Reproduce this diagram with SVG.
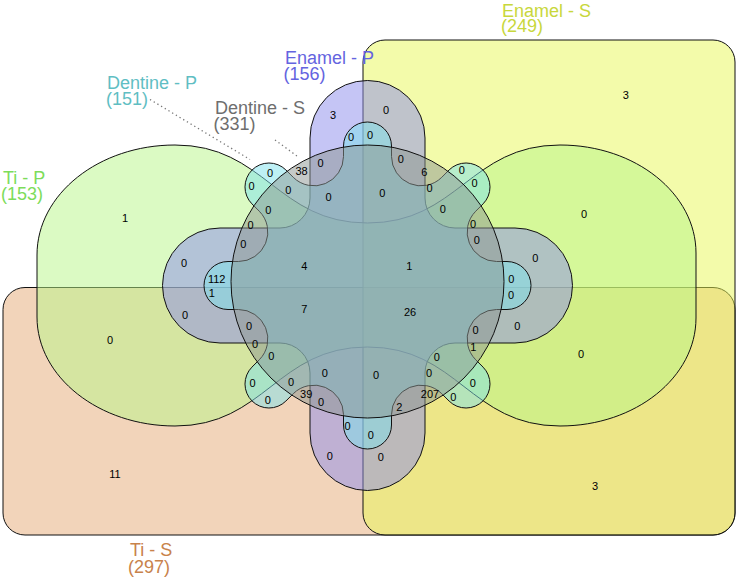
<svg xmlns="http://www.w3.org/2000/svg" width="736" height="579" viewBox="0 0 736 579">
<style>
.s{stroke:#111;stroke-width:1;fill-opacity:0.5}
.n{font-family:"Liberation Sans",Arial,sans-serif;font-size:11px;fill:#000;text-anchor:middle}
.l{font-family:"Liberation Sans",Arial,sans-serif;font-size:18px}
.d{stroke:#777;stroke-width:1.3;stroke-dasharray:1.3,3;fill:none}
</style>
<rect width="736" height="579" fill="#fff"/>
<g id="ti-s">
<rect class="s" x="3" y="287.5" width="732" height="247.5" rx="22" fill="#e5a975"/>
<text class="l" fill="#c8824b" x="130" y="556">Ti - S</text>
<text class="l" fill="#c8824b" x="128" y="572.5">(297)</text>
</g>
<g id="enamel-s">
<rect class="s" x="363" y="40" width="372" height="495" rx="22" fill="#e7f755"/>
<text class="l" fill="#c8d73c" x="502" y="16.5">Enamel - S</text>
<text class="l" fill="#c8d73c" x="501" y="32">(249)</text>
</g>
<g id="ti-p">
<path class="s" fill="#b7f587" d="M37 255C37 194 99 145 175 145C265 145 277 223 367.5 223C458 223 470 145 560 145C636 145 696 194 696 253L696 318C696 377 636 426 560 426C470 426 458 347 367.5 347C277 347 265 426 175 426C99 426 37 377 37 317Z"/>
<text class="l" fill="#7ddc5a" x="3" y="184">Ti - P</text>
<text class="l" fill="#7ddc5a" x="1" y="200">(153)</text>
</g>
<g id="enamel-p">
<path class="s" fill="#8b8beb" d="M310 198L310 138A57.5 57.5 0 0 1 425 138L425 198A30 30 0 0 0 455 228L515 228A57.5 57.5 0 0 1 515 343L455 343A30 30 0 0 0 425 373L425 433A57.5 57.5 0 0 1 310 433L310 373A30 30 0 0 0 280 343L220 343A57.5 57.5 0 0 1 220 228L280 228A30 30 0 0 0 310 198Z"/>
<text class="l" fill="#6464e0" x="285" y="64">Enamel - P</text>
<text class="l" fill="#6464e0" x="283.5" y="80">(156)</text>
</g>
<g id="dentine-p">
<path class="s" fill="#7de1eb" d="M343.5 156.5L343.5 146A24 24 0 0 1 391.5 146L391.5 156.5A29.5 29.5 0 0 0 441.75 177.31L449.17 169.89A24 24 0 0 1 483.11 203.83L475.69 211.25A29.5 29.5 0 0 0 496.5 261.5L507 261.5A24 24 0 0 1 507 309.5L496.5 309.5A29.5 29.5 0 0 0 475.69 359.75L483.11 367.17A24 24 0 0 1 449.17 401.11L441.75 393.69A29.5 29.5 0 0 0 391.5 414.5L391.5 425A24 24 0 0 1 343.5 425L343.5 414.5A29.5 29.5 0 0 0 293.25 393.69L285.83 401.11A24 24 0 0 1 251.89 367.17L259.31 359.75A29.5 29.5 0 0 0 238.5 309.5L228 309.5A24 24 0 0 1 228 261.5L238.5 261.5A29.5 29.5 0 0 0 259.31 211.25L251.89 203.83A24 24 0 0 1 285.83 169.89L293.25 177.31A29.5 29.5 0 0 0 343.5 156.5Z"/>
<text class="l" fill="#5fbec3" x="107" y="89">Dentine - P</text>
<text class="l" fill="#5fbec3" x="106" y="105">(151)</text>
</g>
<g id="dentine-s">
<circle class="s" cx="367.5" cy="281.5" r="136.5" fill="#8c9691"/>
<text class="l" fill="#6e6e6e" x="215" y="114">Dentine - S</text>
<text class="l" fill="#6e6e6e" x="213.5" y="130">(331)</text>
</g>
<g id="connectors">
<line class="d" x1="150" y1="99.5" x2="250" y2="159.5"/>
<line class="d" x1="275" y1="140" x2="297" y2="156"/>
</g>
<g id="counts">
<text class="n" x="333" y="119">3</text>
<text class="n" x="386" y="114">0</text>
<text class="n" x="351" y="141">0</text>
<text class="n" x="370" y="139">0</text>
<text class="n" x="320.5" y="166.5">0</text>
<text class="n" x="301.5" y="175">38</text>
<text class="n" x="400.7" y="163.3">0</text>
<text class="n" x="424.3" y="176.3">6</text>
<text class="n" x="461.7" y="174">0</text>
<text class="n" x="474.5" y="187">0</text>
<text class="n" x="429.5" y="192.3">0</text>
<text class="n" x="270" y="177.3">0</text>
<text class="n" x="251.5" y="190">0</text>
<text class="n" x="288.3" y="194">0</text>
<text class="n" x="328.5" y="200.7">0</text>
<text class="n" x="382.3" y="197.3">0</text>
<text class="n" x="268.3" y="214">0</text>
<text class="n" x="250.5" y="229">0</text>
<text class="n" x="243.3" y="248.3">0</text>
<text class="n" x="304.3" y="270">4</text>
<text class="n" x="442.7" y="213">0</text>
<text class="n" x="473" y="228">0</text>
<text class="n" x="476.7" y="244">0</text>
<text class="n" x="409.3" y="270">1</text>
<text class="n" x="535.3" y="261.7">0</text>
<text class="n" x="511.3" y="283">0</text>
<text class="n" x="511" y="299">0</text>
<text class="n" x="517.3" y="330">0</text>
<text class="n" x="475.5" y="333.5">0</text>
<text class="n" x="473.3" y="350.5">1</text>
<text class="n" x="436.7" y="361">0</text>
<text class="n" x="429" y="377">0</text>
<text class="n" x="472.7" y="386.7">0</text>
<text class="n" x="430" y="397.7">207</text>
<text class="n" x="453.3" y="401">0</text>
<text class="n" x="399.3" y="410.5">2</text>
<text class="n" x="376" y="378.7">0</text>
<text class="n" x="370.7" y="439.3">0</text>
<text class="n" x="410" y="316">26</text>
<text class="n" x="304.3" y="313.3">7</text>
<text class="n" x="249" y="330">0</text>
<text class="n" x="255" y="348.2">0</text>
<text class="n" x="271.3" y="359.8">0</text>
<text class="n" x="324.7" y="377.3">0</text>
<text class="n" x="252.5" y="387">0</text>
<text class="n" x="291" y="385.5">0</text>
<text class="n" x="267.7" y="404">0</text>
<text class="n" x="306.2" y="397.8">39</text>
<text class="n" x="321" y="405.7">0</text>
<text class="n" x="347.5" y="430">0</text>
<text class="n" x="329.7" y="460.3">0</text>
<text class="n" x="380.7" y="460.7">0</text>
<text class="n" x="184" y="266.7">0</text>
<text class="n" x="216.7" y="283.3">112</text>
<text class="n" x="211.7" y="297.3">1</text>
<text class="n" x="185" y="319">0</text>
<text class="n" x="110" y="344">0</text>
<text class="n" x="115" y="478">11</text>
<text class="n" x="125" y="222">1</text>
<text class="n" x="625.7" y="99">3</text>
<text class="n" x="584" y="218.3">0</text>
<text class="n" x="581" y="358">0</text>
<text class="n" x="595" y="490">3</text>
</g>
</svg>
